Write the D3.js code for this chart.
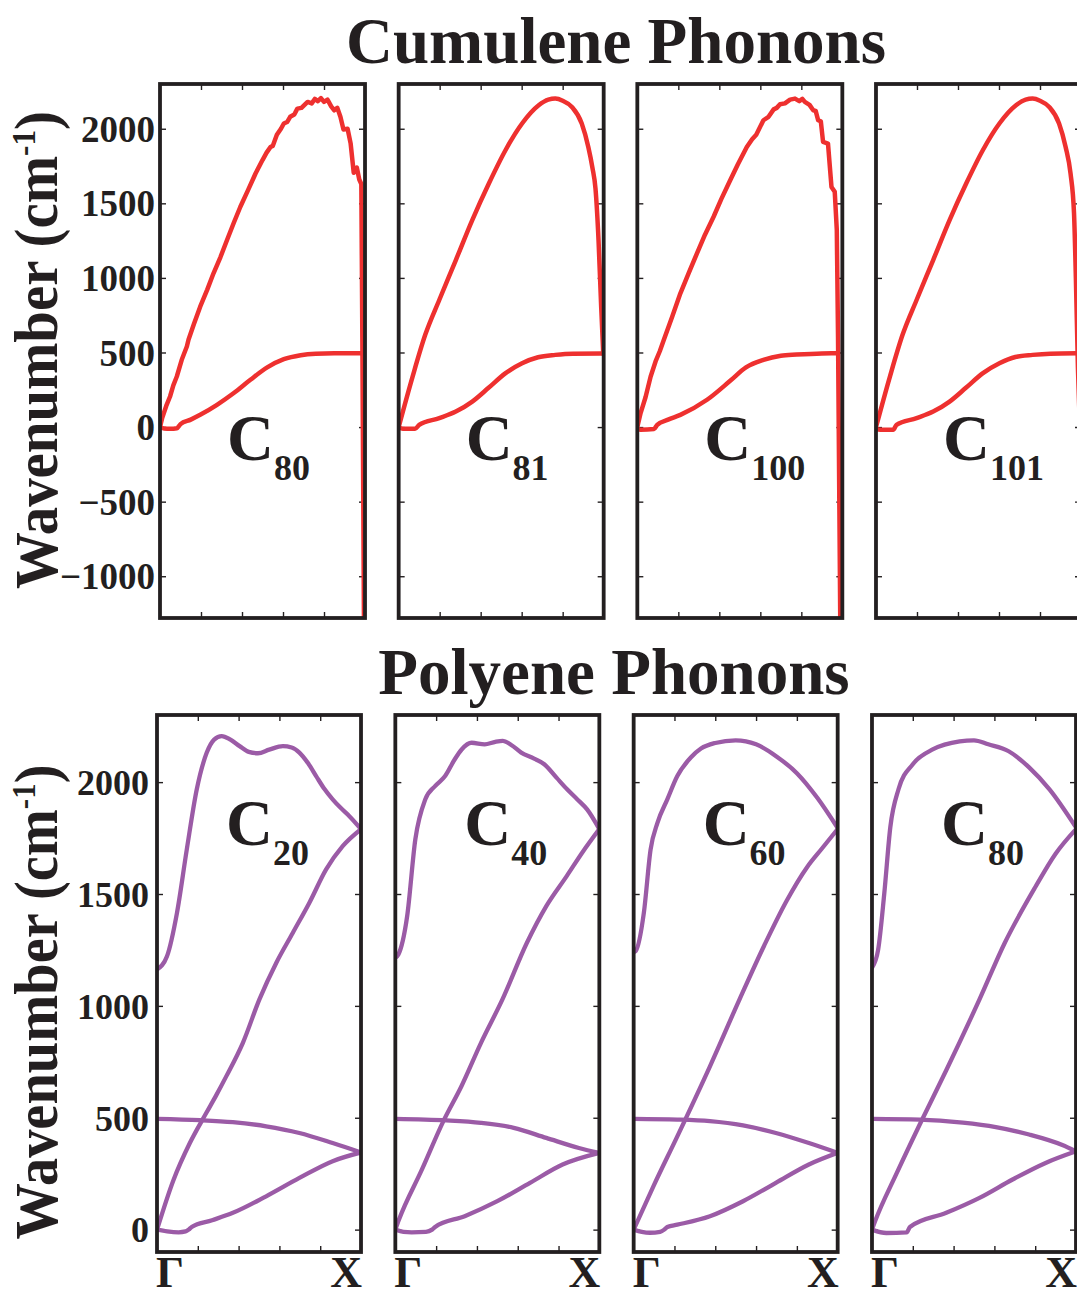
<!DOCTYPE html>
<html>
<head>
<meta charset="utf-8">
<script src="https://cdn.jsdelivr.net/npm/d3@7"></script>
<style>
  html, body { margin: 0; padding: 0; background: #fff; overflow: hidden; }
  text { font-family: "Liberation Serif", "Times New Roman", serif; font-weight: bold; fill: #231f20; }
</style>
</head>
<body>
<svg id="fig" width="1077" height="1297"></svg>
<script>
// Phonon dispersion along the Γ–X path; k is the fractional position (0 = Γ, 1 = X),
// frequencies are in cm^-1.

const cumuleneChains = ["80", "81", "100", "101"];
const polyeneChains = ["20", "40", "60", "80"];
const yTicksCumulene = [-1000, -500, 0, 500, 1000, 1500, 2000];
const yTicksPolyene = [0, 500, 1000, 1500, 2000];
const kTicks = [0.2, 0.4, 0.6, 0.8];
const kLabels = ["Γ", "X"];

// ---- cumulene chains ----
const c80Upper = [[0,0],[0.011,62],[0.03,140],[0.049,205],[0.065,280],[0.082,339],[0.106,451],[0.131,540],
  [0.139,585],[0.165,690],[0.196,807],[0.23,920],[0.261,1031],[0.295,1140],[0.327,1254],[0.36,1370],
  [0.392,1477],[0.43,1590],[0.466,1700],[0.5,1790],[0.52,1840],[0.539,1878],[0.55,1885],[0.57,1960],
  [0.59,2000],[0.604,2035],[0.62,2045],[0.635,2080],[0.655,2095],[0.67,2135],[0.69,2140],[0.705,2160],
  [0.72,2180],[0.74,2170],[0.755,2200],[0.77,2185],[0.785,2205],[0.8,2180],[0.817,2195],[0.835,2150],
  [0.85,2124],[0.865,2140],[0.88,2080],[0.895,1995],[0.915,2000],[0.93,1900],[0.945,1705],
  [0.96,1740],[0.972,1660],[0.982,1630],[0.987,600],[0.995,-1320]];
const c80Lower = [[0,0],[0.02,-10],[0.05,-12],[0.082,-8],[0.1,20],[0.15,50],[0.196,82],[0.278,149],
  [0.36,228],[0.441,317],[0.523,400],[0.604,455],[0.686,482],[0.76,492],[0.85,495],[0.987,495]];

const c81Upper = [[0,0],[0.068,339],[0.13,620],[0.198,852],[0.279,1120],[0.359,1388],[0.44,1633],
  [0.521,1856],[0.602,2035],[0.683,2157],[0.73,2195],[0.764,2202],[0.8,2188],[0.845,2146],[0.893,2035],
  [0.925,1878],[0.945,1740],[0.96,1600],[0.975,1250],[0.988,800],[0.998,490]];
const c81Lower = [[0,0],[0.02,-12],[0.08,-12],[0.1,15],[0.198,60],[0.279,104],[0.359,171],[0.44,265],
  [0.52,360],[0.602,428],[0.68,468],[0.764,484],[0.85,492],[0.998,493]];

const c100Upper = [[0,0],[0.016,94],[0.04,200],[0.065,339],[0.089,440],[0.11,510],[0.129,584],
  [0.17,740],[0.21,897],[0.25,1030],[0.291,1165],[0.33,1290],[0.372,1410],[0.41,1530],[0.453,1655],
  [0.49,1760],[0.534,1878],[0.56,1930],[0.58,1960],[0.615,2057],[0.64,2080],[0.665,2130],[0.68,2140],
  [0.696,2164],[0.72,2170],[0.745,2195],[0.769,2202],[0.79,2185],[0.805,2200],[0.817,2180],
  [0.84,2160],[0.858,2124],[0.87,2120],[0.882,2057],[0.895,2050],[0.906,1912],[0.93,1901],
  [0.947,1610],[0.963,1577],[0.973,1320],[0.979,600],[0.99,-1320]];
const c100Lower = [[0,-10],[0.016,-18],[0.081,-13],[0.097,15],[0.15,50],[0.21,82],[0.34,183],
  [0.453,310],[0.53,400],[0.615,450],[0.7,478],[0.777,486],[0.9,494],[0.979,495]];

const c101Upper = [[0,0],[0.068,339],[0.13,620],[0.198,852],[0.279,1120],[0.359,1388],[0.44,1633],
  [0.521,1856],[0.602,2035],[0.683,2157],[0.73,2195],[0.764,2202],[0.8,2188],[0.845,2146],[0.893,2035],
  [0.925,1878],[0.949,1700],[0.966,1432],[0.975,1000],[0.985,400],[0.995,-20]];
const c101Lower = [[0,-15],[0.02,-18],[0.084,-18],[0.1,15],[0.198,60],[0.279,104],[0.359,171],
  [0.44,265],[0.52,360],[0.602,428],[0.68,470],[0.764,484],[0.85,492],[0.99,495]];

// ---- polyene chains ----
const p20Top = [[0,1163],[0.049,1222],[0.098,1416],[0.146,1699],[0.195,1968],[0.244,2132],[0.28,2190],
  [0.317,2206],[0.36,2190],[0.405,2161],[0.45,2135],[0.495,2129],[0.55,2145],[0.617,2161],[0.66,2155],
  [0.698,2132],[0.74,2085],[0.78,2027],[0.82,1970],[0.861,1923],[0.9,1885],[0.943,1848],[1,1790]];
const p20LA = [[0,0],[0.08,220],[0.161,387],[0.242,522],[0.29,600],[0.34,686],[0.421,835],
  [0.502,1029],[0.585,1193],[0.666,1327],[0.747,1461],[0.829,1610],[0.91,1714],[1,1790]];
const p20Mid = [[0,495],[0.21,489],[0.372,480],[0.535,462],[0.698,432],[0.861,387],[1,345]];
const p20Low = [[0,0],[0.05,-8],[0.106,-12],[0.14,-8],[0.155,0],[0.17,12],[0.27,42],[0.372,75],
  [0.535,149],[0.698,231],[0.861,306],[1,345]];

const p40Top = [[0,1215],[0.015,1230],[0.058,1401],[0.098,1744],[0.147,1923],[0.196,1983],[0.244,2027],
  [0.29,2100],[0.325,2146],[0.374,2176],[0.438,2169],[0.49,2180],[0.527,2184],[0.57,2165],[0.617,2132],
  [0.68,2105],[0.73,2080],[0.79,2020],[0.842,1968],[0.89,1925],[0.94,1878],[1,1790]];
const p40LA = [[0,0],[0.018,45],[0.13,268],[0.235,484],[0.324,641],[0.42,835],[0.525,1029],
  [0.645,1282],[0.74,1446],[0.84,1580],[0.92,1690],[1,1790]];
const p40Mid = [[0,495],[0.25,488],[0.42,477],[0.58,455],[0.74,410],[0.9,365],[1,343]];
const p40Low = [[0,0],[0.04,-10],[0.08,-12],[0.15,-10],[0.18,0],[0.195,12],[0.34,60],[0.5,127],
  [0.66,209],[0.82,291],[1,343]];

const p60Top = [[0,1240],[0.01,1245],[0.05,1416],[0.083,1699],[0.117,1819],[0.165,1923],[0.214,2027],
  [0.28,2110],[0.33,2150],[0.4,2175],[0.5,2187],[0.6,2169],[0.7,2115],[0.8,2040],[0.9,1930],[1,1795]];
const p60LA = [[0,0],[0.1,200],[0.214,417],[0.374,730],[0.519,1029],[0.64,1270],[0.75,1470],
  [0.85,1620],[0.92,1700],[1,1790]];
const p60Mid = [[0,495],[0.214,492],[0.374,485],[0.536,466],[0.697,432],[0.859,387],[1,343]];
const p60Low = [[0,0],[0.04,-10],[0.08,-14],[0.13,-10],[0.15,0],[0.165,12],[0.214,22],[0.374,60],
  [0.536,127],[0.697,209],[0.859,291],[1,343]];

const p80Top = [[0,1170],[0.03,1250],[0.06,1500],[0.09,1800],[0.13,1968],[0.2,2080],[0.3,2147],
  [0.43,2182],[0.5,2187],[0.57,2169],[0.67,2138],[0.77,2066],[0.87,1968],[1,1798]];
const p80LA = [[0,0],[0.015,37],[0.12,250],[0.234,470],[0.364,712],[0.527,1029],[0.65,1280],
  [0.8,1530],[0.9,1680],[1,1790]];
const p80Mid = [[0,495],[0.234,492],[0.445,478],[0.607,458],[0.77,425],[0.933,378],[1,350]];
const p80Low = [[0,0],[0.07,-15],[0.17,-12],[0.186,12],[0.364,75],[0.527,142],[0.689,224],
  [0.851,298],[1,350]];

// branches per chain; "jagged" ones are drawn point to point
const cumuleneBranches = [
  [{pts: c80Upper, jagged: true}, {pts: c80Lower}],
  [{pts: c81Upper}, {pts: c81Lower}],
  [{pts: c100Upper, jagged: true}, {pts: c100Lower}],
  [{pts: c101Upper}, {pts: c101Lower}]
];
const polyeneBranches = [
  [{pts: p20Top}, {pts: p20LA}, {pts: p20Mid}, {pts: p20Low}],
  [{pts: p40Top}, {pts: p40LA}, {pts: p40Mid}, {pts: p40Low}],
  [{pts: p60Top}, {pts: p60LA}, {pts: p60Mid}, {pts: p60Low}],
  [{pts: p80Top}, {pts: p80LA}, {pts: p80Mid}, {pts: p80Low}]
];

const ink = "#231f20";
const svg = d3.select("#fig");

function drawRow(cfg) {
  const band = d3.scaleBand().domain(cfg.names).range(cfg.xRange)
    .paddingInner(cfg.pad).paddingOuter(0);
  const y = d3.scaleLinear().domain(cfg.yDomain).range(cfg.yRange);
  const [yBot, yTop] = cfg.yRange;

  cfg.names.forEach((name, i) => {
    const x0 = band(name), w = band.bandwidth();
    const x = d3.scaleLinear().domain([0, 1]).range([x0, x0 + w]);
    const g = svg.append("g");
    const clipId = `clip-${cfg.id}-${i}`;
    g.append("clipPath").attr("id", clipId).append("rect")
      .attr("x", x0).attr("y", yTop).attr("width", w).attr("height", yBot - yTop);

    // inward ticks on all four sides
    const tickGroups = [
      [d3.axisLeft(y).tickValues(cfg.yTicks), `translate(${x0},0)`, i === 0],
      [d3.axisRight(y).tickValues(cfg.yTicks), `translate(${x0 + w},0)`, false],
      [d3.axisTop(x).tickValues(kTicks), `translate(0,${yTop})`, false],
      [d3.axisBottom(x).tickValues(kTicks), `translate(0,${yBot})`, false]
    ];
    tickGroups.forEach(([axis, tr, labelled]) => {
      const a = g.append("g").attr("transform", tr)
        .call(axis.tickSize(-6).tickPadding(cfg.labelPad).tickFormat(labelled ? d3.format("d") : ""));
      a.select(".domain").remove();
      a.selectAll(".tick line").attr("stroke", ink).attr("stroke-width", 1.4);
      a.selectAll(".tick text").attr("font-size", cfg.tickFont).attr("fill", ink)
        .attr("font-family", "Liberation Serif, serif").attr("font-weight", "bold")
        .attr("dy", "0.34em");
    });

    const line = d3.line().x(d => x(d[0])).y(d => y(d[1]));
    const curves = g.append("g").attr("clip-path", `url(#${clipId})`);
    cfg.branches[i].forEach(b => {
      curves.append("path").datum(b.pts)
        .attr("d", line.curve(b.jagged ? d3.curveLinear : d3.curveMonotoneX))
        .attr("fill", "none").attr("stroke", cfg.color).attr("stroke-width", cfg.lineWidth)
        .attr("stroke-linejoin", "round").attr("stroke-linecap", "round");
    });

    g.append("rect").attr("x", x0).attr("y", yTop).attr("width", w).attr("height", yBot - yTop)
      .attr("fill", "none").attr("stroke", ink).attr("stroke-width", 3.8);

    // chain label C_n
    const lab = g.append("text").attr("x", x0 + cfg.labelDx).attr("y", cfg.labelY)
      .attr("font-size", 65).text("C");
    lab.append("tspan").attr("dy", 20).attr("font-size", 36).text(name);

    if (cfg.kLabels) {
      g.append("text").attr("x", x0 - 1).attr("y", 1287).attr("font-size", 44)
        .attr("text-anchor", "start").text(kLabels[0]);
      g.append("text").attr("x", x0 + w + 1).attr("y", 1287).attr("font-size", 44)
        .attr("text-anchor", "end").text(kLabels[1]);
    }
  });

  svg.append("text").attr("x", cfg.titleX).attr("y", cfg.titleY).attr("text-anchor", "middle")
    .attr("font-size", 65).text(cfg.title);

  // rotated axis title, squeezed along its length to span the panel height
  const yl = svg.append("text").attr("text-anchor", "middle").attr("font-size", 62);
  yl.append("tspan").text("Wavenumber (cm");
  yl.append("tspan").attr("font-size", 34).attr("dy", -22).text("-1");
  yl.append("tspan").attr("dy", 22).text(")");
  const len = yl.node().getComputedTextLength();
  const sx = cfg.yLabelLength / len;
  yl.attr("transform", `translate(57,${cfg.yLabelY}) rotate(-90) scale(${sx},1)`);
}

drawRow({
  id: "cum", title: "Cumulene Phonons", titleX: 616, titleY: 63,
  names: cumuleneChains, branches: cumuleneBranches,
  xRange: [160, 1081], pad: 0.141,
  yDomain: [-1280, 2300], yRange: [618, 84], yTicks: yTicksCumulene,
  color: "#ee302f", lineWidth: 4.5, tickFont: 37, labelPad: 5,
  labelDx: 67, labelY: 460, yLabelY: 350, yLabelLength: 478, kLabels: false
});

drawRow({
  id: "poly", title: "Polyene Phonons", titleX: 614, titleY: 694,
  names: polyeneChains, branches: polyeneBranches,
  xRange: [157, 1076], pad: 0.144,
  yDomain: [-100, 2300], yRange: [1252, 715], yTicks: yTicksPolyene,
  color: "#9b5ba6", lineWidth: 4.3, tickFont: 36, labelPad: 8,
  labelDx: 69, labelY: 845, yLabelY: 1002, yLabelLength: 475, kLabels: true
});
</script>
</body>
</html>
